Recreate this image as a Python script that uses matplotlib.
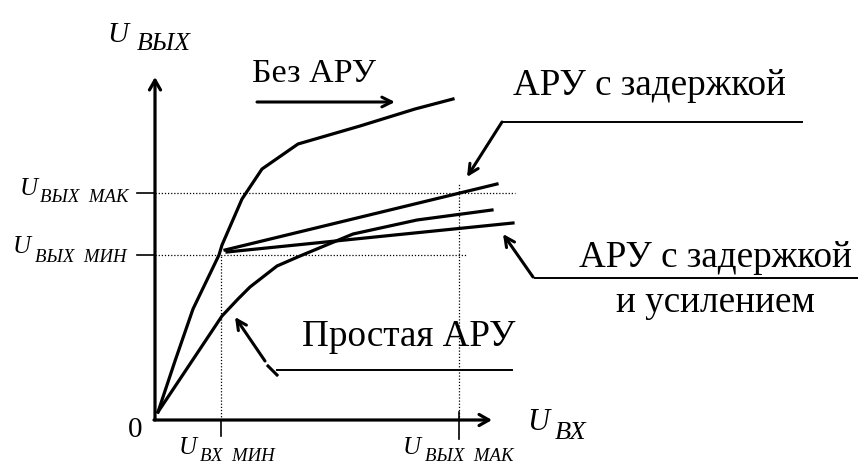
import numpy as np
import matplotlib.pyplot as plt

plt.rcParams['font.family'] = ['Liberation Serif', 'DejaVu Serif']

# curves, diagram units (origin at the axes corner)
no_agc_x = [3, 20, 38, 64, 67, 87, 107, 143, 205, 260, 298]
no_agc_y = [8, 59, 111, 165, 175, 221, 251, 276, 294, 311, 321]

simple_x = [3, 35, 67, 83, 95, 122, 145, 198, 262, 337]
simple_y = [8, 56, 104, 121, 133, 154, 164, 186, 200, 210]

delay_x = [70, 342]
delay_y = [170, 236]

delay_gain_x = [72, 358]
delay_gain_y = [168, 197]

# reference levels
u_out_max = 227
u_out_min = 165
u_in_min = 66
u_in_max = 304

fig = plt.figure(figsize=(8.58, 4.64), dpi=100)
ax = fig.add_axes([0, 0, 1, 1])
ax.set_xlim(-155, 703)
ax.set_ylim(-43, 421)
ax.axis('off')

lw = 2.3
ax.plot(no_agc_x, no_agc_y, color='black', lw=lw)
ax.plot(simple_x, simple_y, color='black', lw=lw)
ax.plot(delay_x, delay_y, color='black', lw=lw)
ax.plot(delay_gain_x, delay_gain_y, color='black', lw=lw)

# axes with arrows
axis_arrow = dict(arrowstyle='->,head_length=0.7,head_width=0.4', lw=2.3, color='black',
                  shrinkA=0, shrinkB=0)
ax.annotate('', xy=(0, 343), xytext=(0, 0), arrowprops=axis_arrow)
ax.annotate('', xy=(337, 0), xytext=(-1, 0), arrowprops=axis_arrow)

# dotted guides
dot = dict(color='black', lw=0.9, ls=(0, (1, 1.5)))
ax.plot([0, 360], [u_out_max, u_out_max], **dot)
ax.plot([0, 312], [u_out_min, u_out_min], **dot)
ax.plot([u_in_min, u_in_min], [0, u_out_min], **dot)
ax.plot([u_in_max, u_in_max], [0, 236], **dot)

# ticks
ax.plot([-18, 0], [u_out_max, u_out_max], color='black', lw=1.2)
ax.plot([-18, 0], [u_out_min, u_out_min], color='black', lw=1.2)
ax.plot([u_in_min, u_in_min], [0, -16], color='black', lw=1.2)
ax.plot([u_in_max, u_in_max], [8, -19], color='black', lw=1.2)

# labels
big = 21
sub = 13.5


def u_label(x, y, sub_text, dx, dy, size_u, size_s):
    ax.text(x, y, 'U', fontsize=size_u, style='italic', va='baseline', ha='left')
    ax.text(x + dx, y - dy, sub_text, fontsize=size_s, style='italic', va='baseline', ha='left')


u_label(-48, 379, 'ВЫХ', 30, 8, big, 18.5)
u_label(-135, 226, 'ВЫХ  МАК', 20, 7, 18, sub)
u_label(-142, 168, 'ВЫХ  МИН', 22, 9, 18, sub)
u_label(24, -33, 'ВХ  МИН', 21, 7, 18, sub)
u_label(248, -33, 'ВЫХ  МАК', 22, 7, 18, sub)
u_label(372, -9, 'ВХ', 28, 9, big + 1, 19)
ax.text(-27, -16, '0', fontsize=21, va='baseline', ha='left')

# annotations
ts = 26.7
arr = dict(arrowstyle='->,head_length=0.7,head_width=0.35', lw=2.2, color='black',
           shrinkA=0, shrinkB=0)

ax.text(97, 339, 'Без АРУ', fontsize=24.5, va='baseline', ha='left')
ax.annotate('', xy=(240, 318), xytext=(102, 318), arrowprops=arr)

ax.text(358, 326, 'АРУ с задержкой', fontsize=ts, va='baseline', ha='left')
ax.plot([347, 647], [298, 298], color='black', lw=1.4)
ax.annotate('', xy=(312, 243), xytext=(347, 298), arrowprops=arr)

ax.text(560, 154, 'АРУ с задержкой', fontsize=ts, va='baseline', ha='center')
ax.text(560, 109, 'и усилением', fontsize=ts, va='baseline', ha='center')
ax.plot([380, 703], [142, 142], color='black', lw=1.4)
ax.annotate('', xy=(348, 186), xytext=(378, 143), arrowprops=arr)

ax.text(147, 75, 'Простая АРУ', fontsize=ts, va='baseline', ha='left')
ax.plot([122, 357], [50, 50], color='black', lw=1.4)
ax.annotate('', xy=(80, 103), xytext=(110, 59), arrowprops=arr)
ax.plot([113, 122], [54, 45], color='black', lw=2.2)

fig.savefig('out.png', dpi=100)
